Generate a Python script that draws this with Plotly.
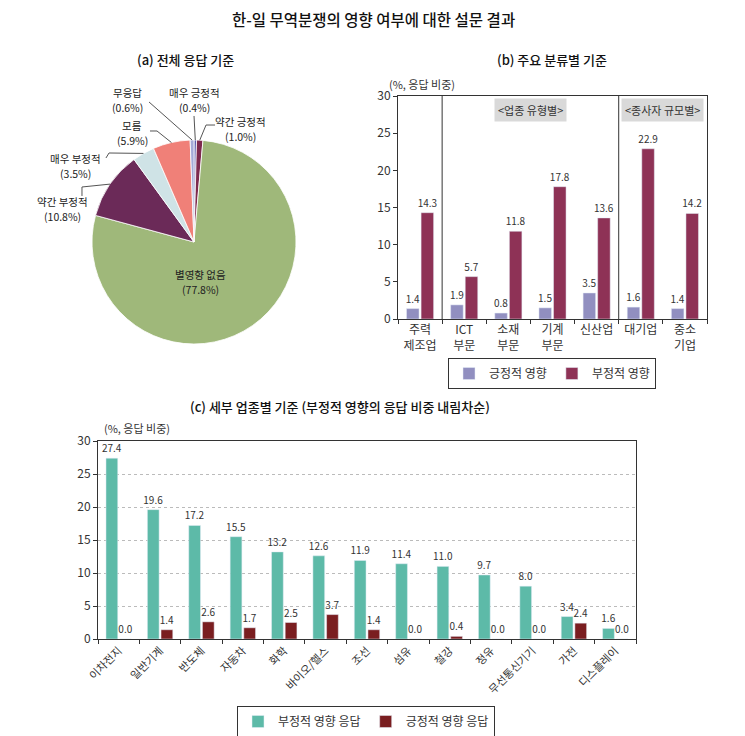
import math
import plotly.graph_objects as go

W, H = 745, 736
OFF = 8  # default page margin of the html body
FONT = "Noto Sans CJK KR"


def px(x):
    return (x - OFF) / W


def py(y):
    return 1 - (y - OFF) / H


# (a) 전체 응답 기준
pie_labels = ["매우 긍정적", "약간 긍정적", "별영향 없음", "약간 부정적", "매우 부정적", "모름", "무응답"]
pie_values = [0.4, 1.0, 77.8, 10.8, 3.5, 5.9, 0.6]
pie_colors = ["#5b5fae", "#7d2a4e", "#9fb87a", "#6b2a58", "#cfe3e6", "#f08078", "#a4abd8"]

# (b) 주요 분류별 기준
b_cats = ["주력<br>제조업", "ICT<br>부문", "소재<br>부문", "기계<br>부문", "신산업", "대기업", "중소<br>기업"]
b_pos = [1.4, 1.9, 0.8, 1.5, 3.5, 1.6, 1.4]
b_neg = [14.3, 5.7, 11.8, 17.8, 13.6, 22.9, 14.2]

# (c) 세부 업종별 기준
c_cats = ["이차전지", "일반기계", "반도체", "자동차", "화학", "바이오/헬스", "조선",
          "섬유", "철강", "정유", "무선통신기기", "가전", "디스플레이"]
c_neg = [27.4, 19.6, 17.2, 15.5, 13.2, 12.6, 11.9, 11.4, 11.0, 9.7, 8.0, 3.4, 1.6]
c_pos = [0.0, 1.4, 2.6, 1.7, 2.5, 3.7, 1.4, 0.0, 0.4, 0.0, 0.0, 2.4, 0.0]

fig = go.Figure()

# pie
cx, cy, r = 194, 242, 102
fig.add_trace(go.Pie(
    labels=pie_labels, values=pie_values, sort=False, direction="clockwise", rotation=0,
    marker=dict(colors=pie_colors, line=dict(color="white", width=0.8)),
    textinfo="none", showlegend=False,
    domain=dict(x=[px(cx - r), px(cx + r)], y=[py(cy + r), py(cy - r)]),
))

bar_text = dict(texttemplate="%{y:.1f}", textposition="outside", constraintext="none",
                textfont=dict(size=10, color="#333"), cliponaxis=False)

# (b) bars
fig.add_trace(go.Bar(x=b_cats, y=b_pos, name="긍정적 영향", marker_color="#918fc0",
                     xaxis="x", yaxis="y", legend="legend", **bar_text))
fig.add_trace(go.Bar(x=b_cats, y=b_neg, name="부정적 영향", marker_color="#8e3256",
                     xaxis="x", yaxis="y", legend="legend", **bar_text))

# (c) bars
fig.add_trace(go.Bar(x=c_cats, y=c_neg, name="부정적 영향 응답", marker_color="#5dbaa8",
                     xaxis="x2", yaxis="y2", legend="legend2", **bar_text))
fig.add_trace(go.Bar(x=c_cats, y=c_pos, name="긍정적 영향 응답", marker_color="#7a1e20",
                     xaxis="x2", yaxis="y2", legend="legend2", **bar_text))

# pie labels (name / percent on two rows) with leader lines
pie_text_pos = {
    "매우 긍정적": (194, 100, [(194, 116)]),
    "약간 긍정적": (240, 129, [(215, 125), (206, 125)]),
    "별영향 없음": (200, 282, None),
    "약간 부정적": (62, 209, [(82, 196), (82, 187)]),
    "매우 부정적": (75, 166, [(106, 158), (109, 153)]),
    "모름": (132, 133, [(150, 131), (157, 131)]),
    "무응답": (128, 100, [(149, 102)]),
}
annotations = []
shapes = []
cum = 0
for lab, val in zip(pie_labels, pie_values):
    mid = math.radians((cum + val / 2) / 100 * 360)
    cum += val
    tx, ty, path = pie_text_pos[lab]
    annotations.append(dict(x=px(tx), y=py(ty - 7.5), text=lab, font=dict(size=10.5, color="#222")))
    annotations.append(dict(x=px(tx), y=py(ty + 7.5), text=f"({val:.1f}%)", font=dict(size=10.5, color="#222")))
    if path:
        ex, ey = cx + r * math.sin(mid), cy - r * math.cos(mid)
        pts = path + [(ex, ey)]
        d = "M " + " L ".join(f"{px(a):.4f},{py(b):.4f}" for a, b in pts)
        shapes.append(dict(type="path", path=d, xref="paper", yref="paper",
                           line=dict(color="#555", width=1)))

# titles
annotations += [
    dict(x=px(373), y=py(19), text="한-일 무역분쟁의 영향 여부에 대한 설문 결과",
         font=dict(size=15.5, color="#111", weight=500)),
    dict(x=px(185), y=py(60), text="(a) 전체 응답 기준", font=dict(size=13, color="#111", weight=500)),
    dict(x=px(552), y=py(60), text="(b) 주요 분류별 기준", font=dict(size=13, color="#111", weight=500)),
    dict(x=px(340), y=py(406), text="(c) 세부 업종별 기준 (부정적 영향의 응답 비중 내림차순)",
         font=dict(size=13, color="#111", weight=500)),
    dict(x=px(422), y=py(84), text="(%, 응답 비중)", font=dict(size=11, color="#333")),
    dict(x=px(137), y=py(428), text="(%, 응답 비중)", font=dict(size=11, color="#333")),
]
for a in annotations:
    a.update(xref="paper", yref="paper", showarrow=False, xanchor="center", yanchor="middle")

# group boxes in (b)
annotations += [
    dict(x=2.5, y=28.1, xref="x", yref="y", text="&lt;업종 유형별&gt;", showarrow=False,
         bgcolor="#d9d9d9", borderpad=3, font=dict(size=11, color="#333")),
    dict(x=5.5, y=28.1, xref="x", yref="y", text="&lt;종사자 규모별&gt;", showarrow=False,
         bgcolor="#d9d9d9", borderpad=3, font=dict(size=11, color="#333")),
]
for xs in [0.5, 4.5]:
    shapes.append(dict(type="line", xref="x", yref="y domain", x0=xs, x1=xs, y0=0, y1=1,
                       line=dict(color="#333", width=1)))

axis_common = dict(showline=True, linecolor="#333", linewidth=1, mirror=True, automargin=False,
                   ticks="outside", tickcolor="#333", ticklen=4, zeroline=False)

fig.update_layout(
    width=W, height=H, margin=dict(l=0, r=0, t=0, b=0),
    paper_bgcolor="white", plot_bgcolor="white",
    font=dict(family=FONT, color="#333"),
    barmode="group", bargap=0.34, bargroupgap=0.14,
    xaxis=dict(domain=[px(398), px(707)], anchor="y", type="category", tickson="boundaries",
               showgrid=False, tickfont=dict(size=12), **axis_common),
    yaxis=dict(domain=[py(319), py(96)], anchor="x", range=[0, 30], dtick=5,
               showgrid=False, tickfont=dict(size=12), **axis_common),
    xaxis2=dict(domain=[px(98), px(636)], anchor="y2", type="category", tickson="boundaries",
                showgrid=False, tickangle=-45, tickfont=dict(size=11), **axis_common),
    yaxis2=dict(domain=[py(639), py(441)], anchor="x2", range=[0, 30], dtick=5,
                showgrid=True, gridcolor="#bbbbbb", griddash="dot",
                tickfont=dict(size=12), **axis_common),
    legend=dict(orientation="h", x=px(552), xanchor="center", y=py(358), yanchor="top",
                bordercolor="#333", borderwidth=1, font=dict(size=12), bgcolor="white",
                itemwidth=30, tracegroupgap=0),
    legend2=dict(orientation="h", x=px(366), xanchor="center", y=py(706), yanchor="top",
                 bordercolor="#333", borderwidth=1, font=dict(size=12), bgcolor="white",
                 itemwidth=30, tracegroupgap=0),
    annotations=annotations, shapes=shapes,
)

fig.write_html("out.html")
